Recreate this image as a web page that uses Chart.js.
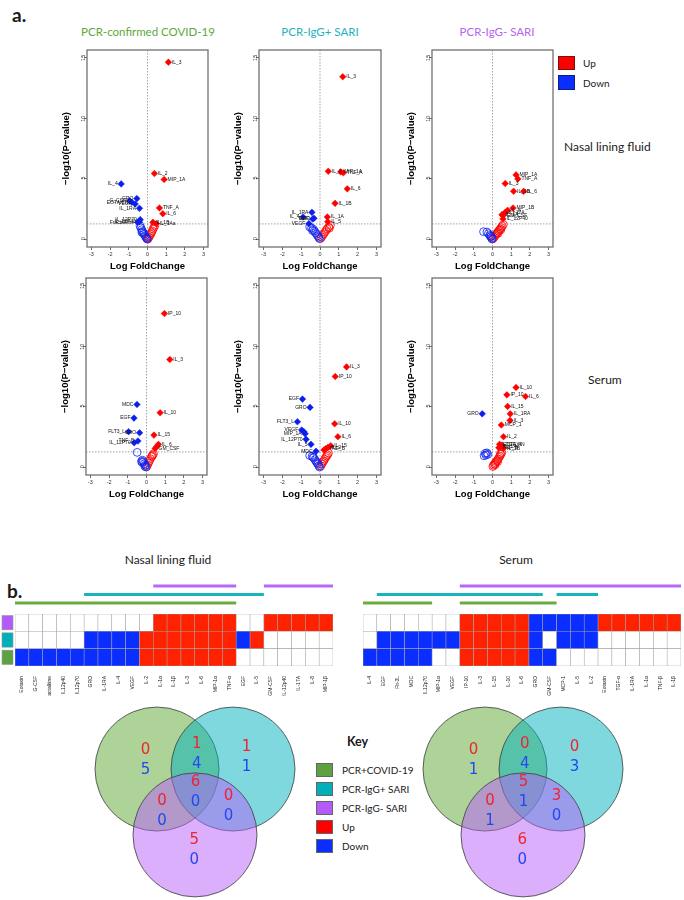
<!DOCTYPE html>
<html><head><meta charset="utf-8">
<script src="https://cdn.jsdelivr.net/npm/chart.js@4.4.1/dist/chart.umd.min.js"></script>
<style>
html,body{margin:0;padding:0;background:#fff;}
#page{position:relative;width:684px;height:900px;overflow:hidden;font-family:Lato,'Open Sans',sans-serif;color:#1a1a1a;}
canvas{position:absolute;}
.t{position:absolute;white-space:nowrap;line-height:1;transform:translate(0,-50%);}
.c{transform:translate(-50%,-50%);}
.sq{position:absolute;box-sizing:border-box;border:1px solid #666;}
</style></head><body><div id="page">
<div class="t" style="left:12px;top:14px;font-size:19px;font-weight:bold;">a.</div>
<div class="t c" style="left:148px;top:32px;font-size:11.5px;color:#5DA83A;">PCR-confirmed COVID-19</div>
<div class="t c" style="left:320px;top:32px;font-size:11.5px;color:#1DB3BE;">PCR-IgG+ SARI</div>
<div class="t c" style="left:497px;top:32px;font-size:11.5px;color:#B466F2;">PCR-IgG- SARI</div>
<div class="sq" style="left:558px;top:56px;width:17px;height:14px;background:#FF0000;border-color:#7a1010;"></div>
<div class="sq" style="left:558px;top:75px;width:17px;height:15px;background:#0A2EFF;border-color:#10207a;"></div>
<div class="t" style="left:583px;top:63px;font-size:10px;">Up</div>
<div class="t" style="left:583px;top:83px;font-size:10px;">Down</div>
<div class="t" style="left:564px;top:147px;font-size:12px;">Nasal lining fluid</div>
<div class="t" style="left:588px;top:380px;font-size:12px;">Serum</div>
<div class="t" style="left:7px;top:590px;font-size:19px;font-weight:bold;">b.</div>
<div class="t c" style="left:168px;top:560px;font-size:12px;">Nasal lining fluid</div>
<div class="t c" style="left:516px;top:560px;font-size:12px;">Serum</div>
<div class="t" style="left:347px;top:742px;font-size:12.5px;font-weight:bold;">Key</div>
<div class="sq" style="left:316px;top:763px;width:17px;height:14px;background:#5EA142;"></div>
<div class="sq" style="left:316px;top:782px;width:17px;height:14px;background:#00AFBA;"></div>
<div class="sq" style="left:316px;top:801px;width:17px;height:14px;background:#B35BF6;"></div>
<div class="sq" style="left:316px;top:820px;width:17px;height:14px;background:#FF0000;"></div>
<div class="sq" style="left:316px;top:839px;width:17px;height:14px;background:#0A2EFF;"></div>
<div class="t" style="left:342px;top:770px;font-size:10px;">PCR+COVID-19</div>
<div class="t" style="left:342px;top:789px;font-size:10px;">PCR-IgG+ SARI</div>
<div class="t" style="left:342px;top:808px;font-size:10px;">PCR-IgG- SARI</div>
<div class="t" style="left:342px;top:827px;font-size:10px;">Up</div>
<div class="t" style="left:342px;top:846px;font-size:10px;">Down</div>

<canvas id="v1" width="151" height="228" style="left:61px;top:44px"></canvas>
<canvas id="v2" width="152" height="228" style="left:233px;top:44px"></canvas>
<canvas id="v3" width="151" height="228" style="left:406px;top:44px"></canvas>
<canvas id="v4" width="151" height="228" style="left:60px;top:272px"></canvas>
<canvas id="v5" width="152" height="228" style="left:233px;top:272px"></canvas>
<canvas id="v6" width="151" height="228" style="left:406px;top:272px"></canvas>
<canvas id="h1" width="342" height="116" style="left:0px;top:580px"></canvas>
<canvas id="h2" width="342" height="116" style="left:342px;top:580px"></canvas>
<canvas id="vn1" width="204" height="200" style="left:93px;top:700px"></canvas>
<canvas id="vn2" width="204" height="200" style="left:421px;top:700px"></canvas>
</div>
<script>
// ---------------- DATA ----------------
const foldTicks = [-3,-2,-1,0,1,2,3];
const pTicks = [0,5,10,15];
const pThreshold = 1.3;

// Nasal lining fluid: [logFC, -log10 p, label]
const nasalCovidUp = [[1.12,14.6,'IL_3'],[0.37,5.44,'IL_2'],[0.89,4.95,'MIP_1A'],[0.64,2.61,'TNF_A'],[0.82,2.14,'IL_6'],[0.29,1.43,'IL_1B'],[0.47,1.32,'IL_1Aa']];
const nasalCovidDown = [[-1.41,4.59,'IL_4'],[-0.57,3.38,'GRO'],[-0.96,3.20,'G_CSF'],[-0.84,3.08,'EOTAXIN'],[-0.66,2.94,'VEGF'],[-0.43,2.58,'IL_1RA'],[-0.39,1.65,'IL_12P70'],[-0.44,1.46,'IL_12P40'],[-0.53,1.43,'Fractalkine']];
const nasalCovidNsUp = [[0.40,1.18],[0.35,1.02],[0.30,0.88],[0.26,0.72],[0.21,0.58],[0.17,0.45],[0.12,0.33],[0.08,0.22],[0.04,0.12],[0.01,0.04]];
const nasalCovidNsDown = [[-0.40,1.15],[-0.36,0.98],[-0.31,0.82],[-0.27,0.68],[-0.22,0.55],[-0.18,0.44],[-0.13,0.33],[-0.09,0.22],[-0.05,0.13],[-0.02,0.06],[-0.30,0.60]];

const nasalIgGposUp = [[1.21,13.4,'IL_3'],[0.44,5.63,'IL_2'],[1.10,5.58,'MIP_1A'],[1.24,5.50,'TNF_A'],[1.45,4.18,'IL_6'],[0.80,2.99,'IL_1B'],[0.39,1.87,'IL_1A'],[0.41,1.48,'IL_5']];
const nasalIgGposDown = [[-0.43,2.25,'IL_1RA'],[-0.90,1.87,'IL_4'],[-0.32,1.76,'GRO'],[-0.39,1.70,'EGF'],[-0.59,1.32,'VEGF']];
const nasalIgGposNsUp = [[0.55,1.18],[0.46,1.04],[0.38,0.90],[0.32,0.76],[0.26,0.62],[0.20,0.48],[0.14,0.35],[0.08,0.22],[0.04,0.10],[0.50,0.95]];
const nasalIgGposNsDown = [[-0.55,1.05],[-0.45,0.96],[-0.36,0.86],[-0.30,0.72],[-0.24,0.58],[-0.18,0.45],[-0.12,0.32],[-0.07,0.20],[-0.03,0.09],[-0.40,0.75]];

const nasalIgGnegUp = [[1.26,5.33,'MIP_1A'],[1.36,5.00,'TNF_A'],[0.68,4.62,'IL_3'],[1.13,3.98,'IL_1B'],[1.67,3.98,'IL_6'],[1.10,2.61,'MIP_1B'],[0.81,2.42,'IL_8'],[0.68,2.25,'IL_17A'],[0.51,2.06,'IL_1A'],[0.56,1.98,'GM_CSF'],[0.56,1.71,'IL_12P40']];
const nasalIgGnegDown = [];
const nasalIgGnegNsUp = [[0.58,1.25],[0.52,1.12],[0.47,1.00],[0.42,0.90],[0.37,0.80],[0.32,0.70],[0.27,0.60],[0.22,0.50],[0.17,0.40],[0.12,0.30],[0.07,0.18],[0.03,0.08],[0.30,0.52],[0.45,0.82]];
const nasalIgGnegNsDown = [[-0.48,0.66],[-0.30,0.63],[-0.22,0.50],[-0.15,0.36],[-0.10,0.25],[-0.05,0.15],[-0.02,0.05],[-0.08,0.30]];

// Serum
const serumCovidUp = [[0.96,12.68,'IP_10'],[1.25,8.90,'IL_3'],[0.73,4.52,'IL_10'],[0.40,2.68,'IL_15'],[0.64,1.92,'IL_6'],[0.55,1.75,''],[0.46,1.58,'GM_CSF']];
const serumCovidDown = [[-0.51,5.20,'MDC'],[-0.67,4.08,'EGF'],[-0.96,2.96,'FLT3_L'],[-0.37,2.87,'GRO'],[-0.46,2.19,'TNF_B'],[-0.66,2.05,'IL_12P70']];
const serumCovidNsUp = [[0.38,1.15],[0.33,1.04],[0.27,0.90],[0.21,0.74],[0.16,0.56],[0.11,0.40],[0.06,0.25],[0.02,0.10],[0.30,0.96]];
const serumCovidNsDown = [[-0.50,1.26],[-0.22,0.62],[-0.17,0.50],[-0.23,0.42],[-0.12,0.32],[-0.06,0.22],[-0.09,0.12],[-0.02,0.05],[-0.27,0.52]];

const serumIgGposUp = [[1.41,8.29,'IL_3'],[0.81,7.50,'IP_10'],[0.78,3.61,'IL_10'],[0.95,2.55,'IL_6'],[0.57,1.81,'IL_15'],[0.42,1.67,'IL_2'],[0.30,1.56,'TNF_B'],[0.21,1.45,'']];
const serumIgGposDown = [[-0.93,5.64,'EGF'],[-0.53,4.96,'GRO'],[-1.20,3.78,'FLT3_L'],[-0.97,3.10,'VEGF'],[-0.86,2.96,''],[-0.79,2.79,'MIP_1A'],[-0.74,2.33,'IL_12P70'],[-0.48,1.92,'IL_5'],[-0.21,1.35,'MDC']];
const serumIgGposNsUp = [[0.45,1.20],[0.40,1.06],[0.35,0.95],[0.30,0.84],[0.25,0.70],[0.20,0.56],[0.15,0.44],[0.10,0.30],[0.05,0.15]];
const serumIgGposNsDown = [[-0.55,1.00],[-0.42,0.94],[-0.33,0.82],[-0.27,0.66],[-0.21,0.52],[-0.16,0.40],[-0.11,0.30],[-0.06,0.16],[-0.02,0.05],[-0.37,0.86]];

const serumIgGnegUp = [[1.26,6.60,'IL_10'],[0.77,5.99,'IP_10'],[1.77,5.86,'IL_6'],[0.81,5.04,'IL_15'],[0.95,4.43,'IL_1RA'],[0.94,3.89,'IL_3'],[0.47,3.51,'MCP_1'],[0.59,2.55,'IL_2'],[0.38,1.92,'EOTAXIN'],[0.51,1.86,'TGF_A'],[0.41,1.72,'IL_1A'],[0.34,1.64,'TNF_B'],[0.59,1.59,'IL_1B']];
const serumIgGnegDown = [[-0.55,4.43,'GRO']];
const serumIgGnegNsUp = [[0.50,1.25],[0.45,1.10],[0.40,0.95],[0.35,0.85],[0.30,0.70],[0.25,0.60],[0.20,0.50],[0.15,0.40],[0.10,0.30],[0.05,0.20],[0.02,0.10],[0.42,1.15],[0.28,0.50],[0.15,0.25]];
const serumIgGnegNsDown = [[-0.39,1.18],[-0.30,1.22],[-0.45,0.98],[-0.25,1.10],[-0.35,1.05]];

// Heatmaps (1 = up, -1 = down, 0 = not significant)
const nasalCytokines = ['Eotaxin','G-CSF','Fractalkine','IL12p40','IL12p70','GRO','IL-1RA','IL-4','VEGF','IL-2','IL-1α','IL-1β','IL-3','IL-6','MIP-1α','TNF-α','EGF','IL-5','GM-CSF','IL-12p40','IL-17A','IL-8','MIP-1β'];
const nasalCovidStatus  = [-1,-1,-1,-1,-1,-1,-1,-1,-1,1,1,1,1,1,1,1,0,0,0,0,0,0,0];
const nasalIgGposStatus = [0,0,0,0,0,-1,-1,-1,-1,1,1,1,1,1,1,1,-1,1,0,0,0,0,0];
const nasalIgGnegStatus = [0,0,0,0,0,0,0,0,0,0,1,1,1,1,1,1,0,0,1,1,1,1,1];
const serumCytokines = ['IL-4','EGF','Flt-3L','MDC','IL12p70','MIP-1α','VEGF','IP-10','IL-3','IL-15','IL-10','IL-6','GRO','GM-CSF','MCP-1','IL-5','IL-2','Eotaxin','TGF-α','IL-1RA','IL-1α','TNF-β','IL-1β'];
const serumCovidStatus  = [-1,-1,-1,-1,-1,0,0,1,1,1,1,1,-1,-1,0,0,0,0,0,0,0,0,0];
const serumIgGposStatus = [0,-1,-1,-1,-1,-1,-1,1,1,1,1,1,-1,0,-1,-1,-1,0,0,0,0,0,0];
const serumIgGnegStatus = [0,0,0,0,0,0,0,1,1,1,1,1,-1,-1,-1,-1,-1,1,1,1,1,1,1];

// Venn counts, regions: [COVID only, COVID&IgG+, IgG+ only, all three, COVID&IgG-, IgG+&IgG-, IgG- only]
const nasalVennUp   = [0,1,1,6,0,0,5];
const nasalVennDown = [5,4,1,0,0,0,0];
const serumVennUp   = [0,0,0,5,0,3,6];
const serumVennDown = [1,4,3,1,1,0,0];

// ---------------- STYLE / LAYOUT ----------------
const FONT = "'Liberation Sans', Arial, sans-serif";
const UP = '#FF0000', DOWN = '#0A1EF0';
const HEAT_UP = '#FF2200', HEAT_DOWN = '#0A2EFF';
const GROUP_LINE = ['#6AAB40','#16B4BF','#B868F5'];
const GROUP_KEY = ['#5EA142','#00AFBA','#B35BF6'];
const VENN_FILL = ['rgba(84,163,41,0.48)','rgba(0,178,188,0.5)','rgba(183,95,250,0.5)'];
const vennCircleCenters = [[-0.613,0.354],[0.613,0.354],[0,-0.708]];
const vennRegionAnchors = [[-0.80,0.50],[0.03,0.59],[0.83,0.55],[0.01,-0.02],[-0.53,-0.33],[0.54,-0.25],[-0.01,-0.96]];
const VENN_UNIT = 62;

const volcanoPlugin = {
  id:'volcanoDecor',
  beforeDatasetsDraw(chart){
    const {ctx, chartArea:a, scales:{x,y}} = chart;
    ctx.save();
    ctx.strokeStyle='#8a8a8a'; ctx.lineWidth=0.8; ctx.setLineDash([1.5,1.5]);
    const x0 = x.getPixelForValue(0), yt = y.getPixelForValue(pThreshold);
    ctx.beginPath(); ctx.moveTo(x0,a.top); ctx.lineTo(x0,a.bottom);
    ctx.moveTo(a.left,yt); ctx.lineTo(a.right,yt); ctx.stroke();
    ctx.restore();
  },
  afterDatasetsDraw(chart){
    const {ctx, chartArea:a} = chart;
    ctx.save();
    ctx.font = '5px '+FONT; ctx.fillStyle='#111'; ctx.textBaseline='middle';
    chart.data.datasets.forEach((ds,di)=>{
      if(!ds.labelled) return;
      chart.getDatasetMeta(di).data.forEach((pt,i)=>{
        const lab = ds.data[i].label; if(!lab) return;
        if(ds.side==='left'){ctx.textAlign='right';ctx.fillText(lab,pt.x-3.5,pt.y);}
        else {ctx.textAlign='left';ctx.fillText(lab,pt.x+3.5,pt.y);}
      });
    });
    ctx.setLineDash([]); ctx.strokeStyle='#707070'; ctx.lineWidth=1.3;
    ctx.strokeRect(a.left,a.top,a.right-a.left,a.bottom-a.top);
    ctx.restore();
  }
};

function makeVolcano(id, up, down, nsUp, nsDown){
  const pts = arr => arr.map(p=>({x:p[0],y:p[1],label:p[2]||''}));
  const open = (arr,col)=>({data:pts(arr),order:2,pointStyle:'circle',pointRadius:3.9,pointBorderColor:col,pointBackgroundColor:'rgba(0,0,0,0)',pointBorderWidth:0.8});
  const filled = (arr,col,side)=>({data:pts(arr),order:1,pointStyle:'rectRot',pointRadius:3.3,pointBorderColor:col,pointBackgroundColor:col,pointBorderWidth:0.5,labelled:true,side});
  return new Chart(document.getElementById(id),{
    type:'scatter',
    data:{datasets:[open(nsDown,DOWN),open(nsUp,UP),filled(down,DOWN,'left'),filled(up,UP,'right')]},
    options:{
      responsive:false, animation:false, events:[],
      layout:{autoPadding:false,padding:{top:6,right:4,left:0,bottom:0}},
      plugins:{legend:{display:false},tooltip:{enabled:false}},
      scales:{
        x:{type:'linear',min:-3.24,max:3.24,
          afterBuildTicks:s=>{s.ticks=foldTicks.map(v=>({value:v}));},
          afterFit:s=>{s.height=25;},
          grid:{drawOnChartArea:false,drawTicks:true,tickLength:3,color:'#444',lineWidth:0.8},
          border:{display:false},
          ticks:{font:{size:5.5,family:FONT},color:'#333',padding:1,minRotation:0,maxRotation:0,callback:v=>String(v)},
          title:{display:true,text:'Log FoldChange',font:{size:9.5,weight:'bold',family:FONT},color:'#000',padding:0}},
        y:{type:'linear',min:-0.6,max:15.6,
          afterBuildTicks:s=>{s.ticks=pTicks.map(v=>({value:v}));},
          afterFit:s=>{s.width=26;},
          grid:{drawOnChartArea:false,drawTicks:true,tickLength:3,color:'#444',lineWidth:0.8},
          border:{display:false},
          ticks:{font:{size:5.5,family:FONT},color:'#333',padding:1,minRotation:90,maxRotation:90,labelOffset:-2.5,callback:v=>String(v)},
          title:{display:true,text:'−log10(P−value)',font:{size:9.5,weight:'bold',family:FONT},color:'#000',padding:0}}
      }
    },
    plugins:[volcanoPlugin]
  });
}

makeVolcano('v1',nasalCovidUp,nasalCovidDown,nasalCovidNsUp,nasalCovidNsDown);
makeVolcano('v2',nasalIgGposUp,nasalIgGposDown,nasalIgGposNsUp,nasalIgGposNsDown);
makeVolcano('v3',nasalIgGnegUp,nasalIgGnegDown,nasalIgGnegNsUp,nasalIgGnegNsDown);
makeVolcano('v4',serumCovidUp,serumCovidDown,serumCovidNsUp,serumCovidNsDown);
makeVolcano('v5',serumIgGposUp,serumIgGposDown,serumIgGposNsUp,serumIgGposNsDown);
makeVolcano('v6',serumIgGnegUp,serumIgGnegDown,serumIgGnegNsUp,serumIgGnegNsDown);

const heatPlugin = {
  id:'heatDecor',
  afterDatasetsDraw(chart,args,opts){
    const {ctx, chartArea:a, scales:{x,y}} = chart;
    const half = (x.getPixelForValue(1)-x.getPixelForValue(0))/2;
    const lineOffsets = [11,19.5,28];
    ctx.save();
    chart.data.datasets.forEach((ds,k)=>{
      const st = ds.statuses; let start=-1;
      for(let i=0;i<=st.length;i++){
        const on = i<st.length && st[i]!==0;
        if(on && start<0) start=i;
        if(!on && start>=0){
          const x1=x.getPixelForValue(start)-half, x2=x.getPixelForValue(i-1)+half;
          ctx.fillStyle=GROUP_LINE[k];
          ctx.fillRect(x1,a.top-lineOffsets[k]-1.5,x2-x1,3);
          start=-1;
        }
      }
      if(opts && opts.rowKeys){
        const yt=y.getPixelForValue(k+1), yb=y.getPixelForValue(k);
        ctx.fillStyle=GROUP_KEY[k]; ctx.fillRect(2,yt+1.5,11,yb-yt-3);
        ctx.strokeStyle='#999'; ctx.lineWidth=0.6; ctx.strokeRect(2,yt+1.5,11,yb-yt-3);
      }
    });
    ctx.restore();
  }
};

function makeHeatmap(id, names, rows, padL, padR, rowKeys){
  const colorOf = v => v>0 ? HEAT_UP : (v<0 ? HEAT_DOWN : '#FFFFFF');
  return new Chart(document.getElementById(id),{
    type:'bar',
    data:{labels:names,datasets:rows.map(r=>({data:r.map(()=>1),statuses:r,backgroundColor:r.map(colorOf),borderColor:'#A5A5A5',borderWidth:0.6,borderSkipped:false,barPercentage:1,categoryPercentage:1}))},
    options:{
      responsive:false, animation:false, events:[],
      layout:{autoPadding:false,padding:{top:34,left:padL,right:padR,bottom:0}},
      plugins:{legend:{display:false},tooltip:{enabled:false},heatDecor:{rowKeys}},
      scales:{
        x:{stacked:true,grid:{display:false},border:{display:false},afterFit:s=>{s.height=30;},
           ticks:{autoSkip:false,minRotation:90,maxRotation:90,font:{size:5,family:FONT},color:'#222',padding:2}},
        y:{stacked:true,display:false,min:0,max:3}
      }
    },
    plugins:[heatPlugin]
  });
}
makeHeatmap('h1',nasalCytokines,[nasalCovidStatus,nasalIgGposStatus,nasalIgGnegStatus],15,9,true);
makeHeatmap('h2',serumCytokines,[serumCovidStatus,serumIgGposStatus,serumIgGnegStatus],21,3,false);

const vennPlugin = {
  id:'vennText',
  afterDatasetsDraw(chart,args,opts){
    const {ctx, scales:{x,y}} = chart;
    ctx.save();
    ctx.font='15px "DejaVu Sans", sans-serif'; ctx.textAlign='center'; ctx.textBaseline='middle';
    vennRegionAnchors.forEach((p,i)=>{
      const px=x.getPixelForValue(p[0]), py=y.getPixelForValue(p[1]);
      ctx.fillStyle='#EE2430'; ctx.fillText(String(opts.up[i]),px,py-10);
      ctx.fillStyle='#2447F2'; ctx.fillText(String(opts.down[i]),px,py+10);
    });
    ctx.restore();
  }
};
function makeVenn(id, up, down){
  const cv = document.getElementById(id);
  const halfW = cv.width/2/VENN_UNIT;
  return new Chart(cv,{
    type:'scatter',
    data:{datasets:vennCircleCenters.map((c,k)=>({
      data:[{x:c[0],y:c[1]}], clip:false, order:2-k,
      pointStyle:'circle', pointRadius:VENN_UNIT,
      pointBackgroundColor:VENN_FILL[k], pointBorderColor:'#3c3c3c', pointBorderWidth:0.8}))},
    options:{
      responsive:false, animation:false, events:[],
      layout:{autoPadding:false,padding:0},
      plugins:{legend:{display:false},tooltip:{enabled:false},vennText:{up,down}},
      scales:{x:{type:'linear',display:false,min:-halfW,max:halfW},y:{type:'linear',display:false,min:-109/VENN_UNIT,max:91/VENN_UNIT}}
    },
    plugins:[vennPlugin]
  });
}
makeVenn('vn1',nasalVennUp,nasalVennDown);
makeVenn('vn2',serumVennUp,serumVennDown);
</script>
</body></html>
